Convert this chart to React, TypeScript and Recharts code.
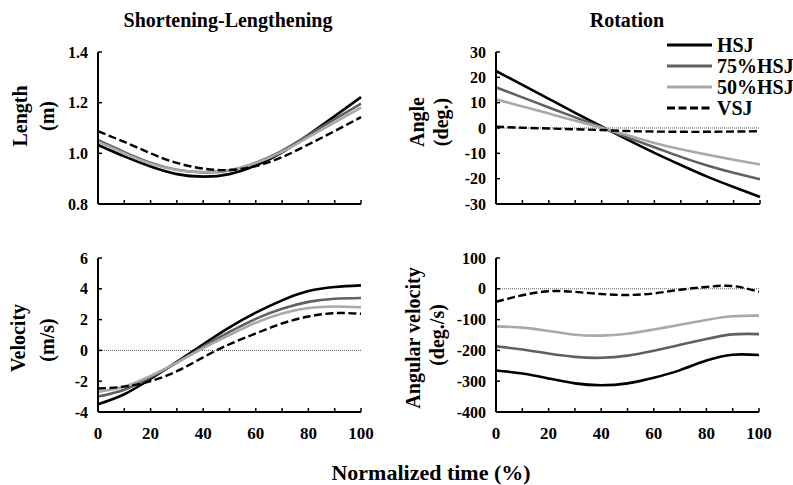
import React from 'react';
import { LineChart, Line, XAxis, YAxis, ReferenceLine, Legend } from 'recharts';

const FONT = "'Liberation Serif', 'Times New Roman', Times, serif";

// ---------- data ----------
const TIME = [0, 10, 20, 30, 40, 50, 60, 70, 80, 90, 100];
const X_TICKS = [0, 10, 20, 30, 40, 50, 60, 70, 80, 90, 100];
const X_LABELS = [0, 20, 40, 60, 80, 100];

const SERIES_KEYS = ['hsj', 'hsj75', 'hsj50', 'vsj'];
const SERIES_NAMES = ['HSJ', '75%HSJ', '50%HSJ', 'VSJ'];
const SERIES_COLORS = ['#000000', '#606060', '#a9a9a9', '#000000'];
const SERIES_DASH = ['', '', '', '8 3.5'];

const LENGTH_HSJ = [1.033, 0.988, 0.948, 0.918, 0.908, 0.918, 0.952, 1.004, 1.073, 1.147, 1.222];
const LENGTH_75 = [1.052, 1.005, 0.963, 0.935, 0.925, 0.932, 0.963, 1.01, 1.072, 1.135, 1.196];
const LENGTH_50 = [1.046, 1.0, 0.96, 0.934, 0.926, 0.934, 0.962, 1.006, 1.064, 1.122, 1.18];
const LENGTH_VSJ = [1.087, 1.045, 1.0, 0.962, 0.94, 0.934, 0.95, 0.985, 1.035, 1.088, 1.143];

const ANGLE_HSJ = [22.5, 17.0, 11.5, 6.0, 0.6, -4.7, -9.8, -14.6, -19.2, -23.3, -27.2];
const ANGLE_75 = [16.0, 12.1, 8.1, 4.2, 0.3, -3.8, -7.6, -11.4, -14.8, -17.7, -20.2];
const ANGLE_50 = [11.3, 8.5, 5.7, 2.9, 0.1, -2.9, -5.9, -8.4, -10.5, -12.5, -14.4];
const ANGLE_VSJ = [0.5, 0.1, -0.2, -0.5, -0.8, -1.2, -1.4, -1.5, -1.5, -1.4, -1.3];

const VEL_HSJ = [-3.5, -2.85, -1.85, -0.75, 0.4, 1.5, 2.45, 3.25, 3.85, 4.12, 4.22];
const VEL_75 = [-3.0, -2.55, -1.75, -0.8, 0.25, 1.2, 2.05, 2.7, 3.15, 3.35, 3.4];
const VEL_50 = [-2.7, -2.35, -1.65, -0.8, 0.15, 1.0, 1.8, 2.4, 2.75, 2.85, 2.8];
const VEL_VSJ = [-2.48, -2.35, -2.0, -1.35, -0.45, 0.4, 1.1, 1.75, 2.2, 2.42, 2.38];

const AVEL_HSJ = [-265, -275, -291, -307, -313, -307, -289, -264, -233, -214, -215];
const AVEL_75 = [-187, -197, -210, -221, -224, -217, -201, -182, -163, -148, -147];
const AVEL_50 = [-122, -126, -137, -149, -152, -146, -132, -117, -101, -89, -87];
const AVEL_VSJ = [-42, -21, -8, -10, -17, -20, -15, -3, 6, 9, -10];

const LENGTH_TICKS = [0.8, 1.0, 1.2, 1.4];
const ANGLE_TICKS = [-30, -20, -10, 0, 10, 20, 30];
const VEL_TICKS = [-4, -2, 0, 2, 4, 6];
const AVEL_TICKS = [-400, -300, -200, -100, 0, 100];

const buildRows = (series: number[][]) =>
  TIME.map((t, i) => {
    const row: Record<string, number> = { t };
    SERIES_KEYS.forEach((k, j) => {
      row[k] = series[j][i];
    });
    return row;
  });

const LENGTH_DATA = buildRows([LENGTH_HSJ, LENGTH_75, LENGTH_50, LENGTH_VSJ]);
const ANGLE_DATA = buildRows([ANGLE_HSJ, ANGLE_75, ANGLE_50, ANGLE_VSJ]);
const VEL_DATA = buildRows([VEL_HSJ, VEL_75, VEL_50, VEL_VSJ]);
const AVEL_DATA = buildRows([AVEL_HSJ, AVEL_75, AVEL_50, AVEL_VSJ]);

// ---------- pieces ----------
const makeXTick = (showLabels: boolean) => (props: any) => {
  const { x, y, payload } = props;
  if (!showLabels || !X_LABELS.includes(payload.value)) return <g />;
  return (
    <text
      x={x}
      y={y + 31}
      textAnchor="middle"
      fontFamily={FONT}
      fontWeight="bold"
      fontSize={17}
      fill="#000"
    >
      {payload.value}
    </text>
  );
};

const renderLegend = () => (
  <svg width={140} height={92} style={{ overflow: 'visible', display: 'block' }}>
    {SERIES_NAMES.map((name, i) => {
      const cy = 12 + i * 21;
      return (
        <g key={name}>
          <line
            x1={2}
            x2={47}
            y1={cy}
            y2={cy}
            stroke={SERIES_COLORS[i]}
            strokeWidth={3}
            strokeDasharray={SERIES_DASH[i] || undefined}
          />
          <text
            x={52}
            y={cy + 6.8}
            fontFamily={FONT}
            fontWeight="bold"
            fontSize={20}
            fill="#000"
          >
            {name}
          </text>
        </g>
      );
    })}
  </svg>
);

type PanelProps = {
  data: Record<string, number>[];
  left: number;
  top: number;
  width: number;
  height: number;
  margin: { top: number; right: number; bottom: number; left: number };
  yWidth: number;
  xHeight: number;
  yDomain: [number, number];
  yTicks: number[];
  yFormat: (v: number) => string;
  showXLabels: boolean;
  zeroLine: boolean;
  legend?: boolean;
};

const Panel = (p: PanelProps) => (
  <div style={{ position: 'absolute', left: p.left, top: p.top, width: p.width, height: p.height }}>
    <LineChart width={p.width} height={p.height} data={p.data} margin={p.margin}>
      <XAxis
        dataKey="t"
        type="number"
        domain={[0, 100]}
        ticks={X_TICKS}
        interval={0}
        height={p.xHeight}
        tickSize={-4}
        tickMargin={0}
        axisLine={{ stroke: '#000', strokeWidth: 2 }}
        tickLine={{ stroke: '#000', strokeWidth: 1.5 }}
        tick={makeXTick(p.showXLabels)}
      />
      <YAxis
        type="number"
        domain={p.yDomain}
        ticks={p.yTicks}
        interval={0}
        width={p.yWidth}
        tickSize={-4}
        tickMargin={14}
        tickFormatter={p.yFormat}
        axisLine={{ stroke: '#000', strokeWidth: 2 }}
        tickLine={{ stroke: '#000', strokeWidth: 1.5 }}
        tick={{ fill: '#000', fontFamily: FONT, fontWeight: 'bold', fontSize: 16 }}
      />
      {p.zeroLine && (
        <ReferenceLine y={0} stroke="#555" strokeWidth={1} strokeDasharray="1 1" />
      )}
      {SERIES_KEYS.map((k, i) => (
        <Line
          key={k}
          dataKey={k}
          name={SERIES_NAMES[i]}
          type="natural"
          stroke={SERIES_COLORS[i]}
          strokeWidth={i === 3 ? 2.4 : 2.6}
          strokeDasharray={SERIES_DASH[i] || undefined}
          dot={false}
          activeDot={false}
          isAnimationActive={false}
        />
      ))}
      {p.legend && (
        <Legend
          layout="vertical"
          align="center"
          verticalAlign="middle"
          content={renderLegend}
          wrapperStyle={{ left: 265, top: 33, width: 140, height: 92 }}
        />
      )}
    </LineChart>
  </div>
);

const YLabel = ({ x, y, text }: { x: number; y: number; text: string }) => (
  <text
    transform={`translate(${x},${y}) rotate(-90)`}
    textAnchor="middle"
    dominantBaseline="central"
    fontFamily={FONT}
    fontWeight="bold"
    fontSize={20}
    fill="#000"
  >
    {text}
  </text>
);

export default function App() {
  return (
    <div
      style={{
        position: 'absolute',
        left: 0,
        top: 0,
        width: 793,
        height: 485,
        background: '#fff',
        overflow: 'hidden',
      }}
    >
      <Panel
        data={LENGTH_DATA}
        left={0}
        top={0}
        width={396}
        height={240}
        margin={{ top: 52, right: 35, bottom: 6, left: 0 }}
        yWidth={98}
        xHeight={30}
        yDomain={[0.8, 1.4]}
        yTicks={LENGTH_TICKS}
        yFormat={(v) => v.toFixed(1)}
        showXLabels={false}
        zeroLine={false}
      />
      <Panel
        data={ANGLE_DATA}
        left={400}
        top={0}
        width={393}
        height={240}
        margin={{ top: 52, right: 33, bottom: 6, left: 0 }}
        yWidth={96}
        xHeight={30}
        yDomain={[-30, 30]}
        yTicks={ANGLE_TICKS}
        yFormat={(v) => String(v)}
        showXLabels={false}
        zeroLine={true}
        legend={true}
      />
      <Panel
        data={VEL_DATA}
        left={0}
        top={240}
        width={396}
        height={245}
        margin={{ top: 18, right: 35, bottom: 33, left: 0 }}
        yWidth={98}
        xHeight={40}
        yDomain={[-4, 6]}
        yTicks={VEL_TICKS}
        yFormat={(v) => String(v)}
        showXLabels={true}
        zeroLine={true}
      />
      <Panel
        data={AVEL_DATA}
        left={400}
        top={240}
        width={393}
        height={245}
        margin={{ top: 18, right: 34, bottom: 33, left: 0 }}
        yWidth={96}
        xHeight={40}
        yDomain={[-400, 100]}
        yTicks={AVEL_TICKS}
        yFormat={(v) => String(v)}
        showXLabels={true}
        zeroLine={true}
      />
      <svg
        width={793}
        height={485}
        style={{ position: 'absolute', left: 0, top: 0, pointerEvents: 'none' }}
      >
        <text x={228} y={27} textAnchor="middle" fontFamily={FONT} fontWeight="bold" fontSize={20} fill="#000">
          Shortening-Lengthening
        </text>
        <text x={627} y={27} textAnchor="middle" fontFamily={FONT} fontWeight="bold" fontSize={20} fill="#000">
          Rotation
        </text>
        <YLabel x={20} y={116} text="Length" />
        <YLabel x={47} y={116} text="(m)" />
        <YLabel x={417} y={122} text="Angle" />
        <YLabel x={441} y={122} text="(deg.)" />
        <YLabel x={18} y={338} text="Velocity" />
        <YLabel x={47} y={340} text="(m/s)" />
        <YLabel x={413} y={338} text="Angular velocity" />
        <YLabel x={437} y={335} text="(deg./s)" />
        <text x={431} y={480} textAnchor="middle" fontFamily={FONT} fontWeight="bold" fontSize={22} fill="#000">
          Normalized time (%)
        </text>
      </svg>
    </div>
  );
}
